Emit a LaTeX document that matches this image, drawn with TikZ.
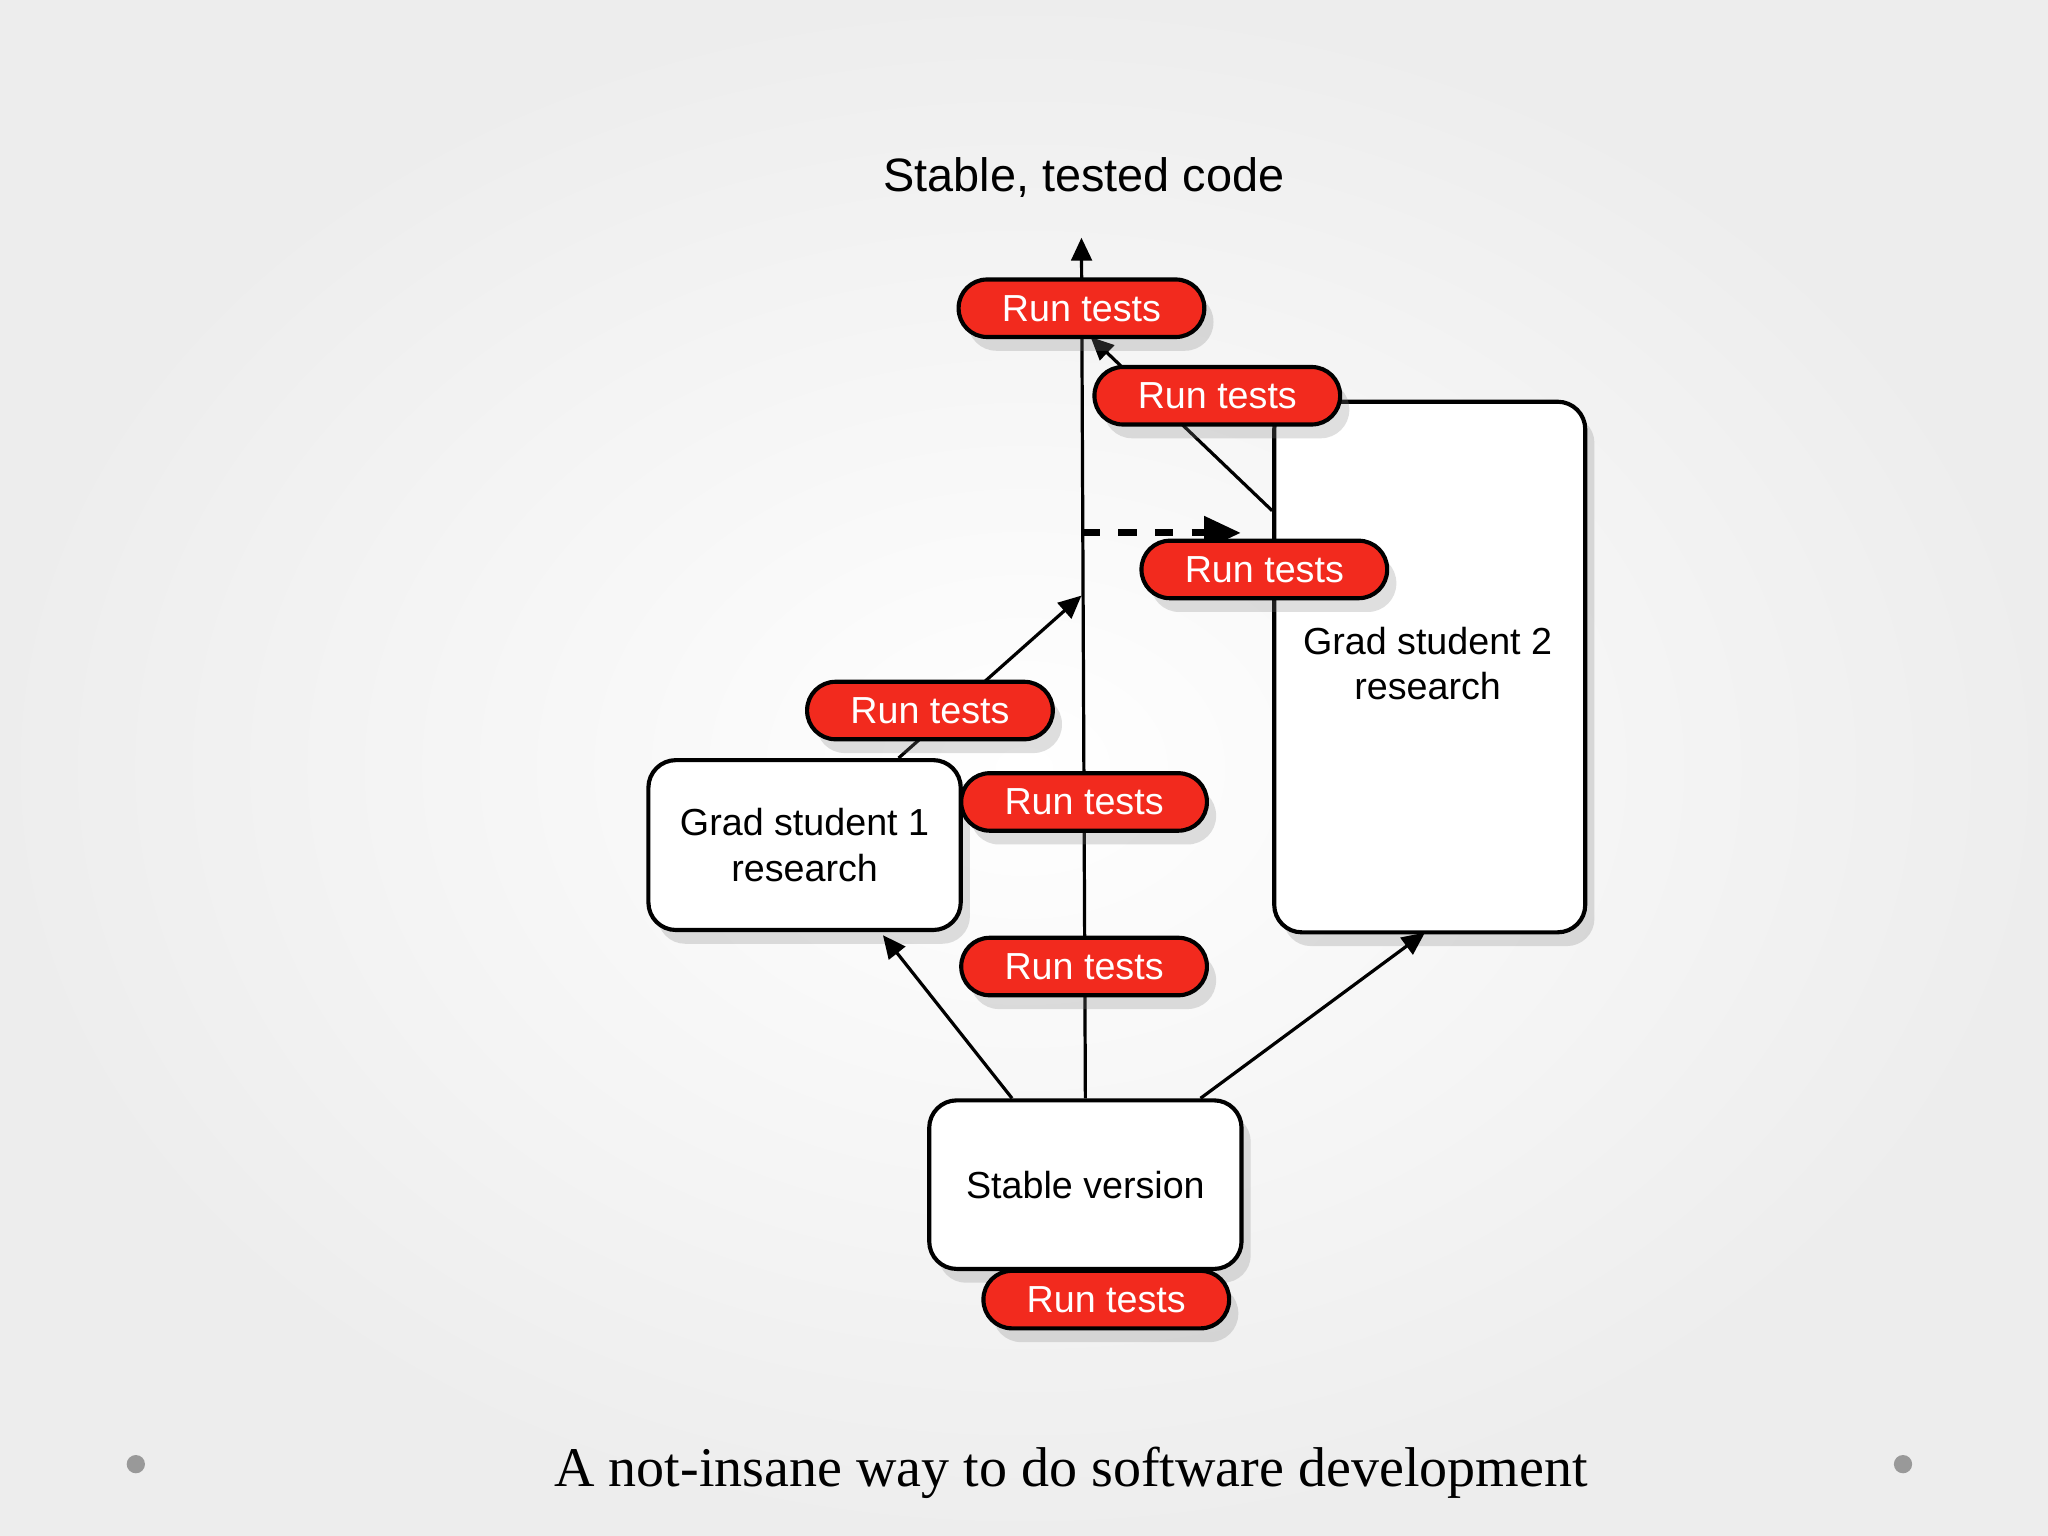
\documentclass[tikz,border=0pt]{standalone}
\usepackage{fontspec}
\setmainfont{Liberation Serif}
\setsansfont{Liberation Sans}
\usetikzlibrary{shadows,arrows.meta}
\definecolor{pillred}{HTML}{F22A1E}
\begin{document}
\begin{tikzpicture}[x=0.01cm,y=-0.01cm,
  pill/.style={draw=black,line width=0.9pt,fill=pillred,text=white,rounded corners=6.2pt,minimum width=1.88cm,minimum height=0.44cm,inner sep=0pt,font=\sffamily\fontsize{8.2}{9}\selectfont,drop shadow={shadow xshift=2pt,shadow yshift=-3pt,opacity=0.25}},
  box/.style={draw=black,line width=0.9pt,fill=white,rounded corners=6pt,align=center,inner sep=0pt,font=\sffamily\fontsize{8.2}{10}\selectfont,drop shadow={shadow xshift=2pt,shadow yshift=-3pt,opacity=0.25}},
  arr/.style={line width=0.7pt,-{Triangle[length=5pt,width=4.5pt]}}]
\useasboundingbox (0,0) rectangle (1568,1176);
\shade[inner color=white,outer color=gray!14] (0,0) rectangle (1568,1176);
\node[font=\sffamily\fontsize{10.2}{12}\selectfont] (title) at (830,136) {Stable, tested code};
\coordinate (top) at (828,182);
\node[box,minimum width=2.39cm,minimum height=1.30cm] (gs1) at (616,647) {Grad student 1\\research};
\node[box,minimum width=2.38cm,minimum height=4.06cm,anchor=north west] (gs2) at (974,306) {};
\node[font=\sffamily\fontsize{8.2}{10}\selectfont,align=center] (gs2t) at (1093,508) {Grad student 2\\research};
\node[box,minimum width=2.39cm,minimum height=1.29cm] (sv) at (831,907) {Stable version};
\coordinate (mid) at (828,456);
\coordinate (d0) at (828,408);
\coordinate (d1) at (950,408);
\coordinate (g2l) at (974,391);
\coordinate (tp) at (835,258);
\draw[arr] (sv.north) -- (top);
\draw[arr] (sv.north west) ++(65,0) coordinate (s1) (s1) -- (676,716);
\draw[arr] (sv.north east) ++(-33,0) coordinate (s2) (s2) -- (1091,714);
\draw[arr] (gs1.north) ++(72,0) coordinate (g1) (g1) -- (mid);
\draw[arr] (g2l) -- (tp);
\draw[line width=1.5pt,dash pattern=on 4pt off 4pt,-{Triangle[length=8pt,width=7pt]}] (d0) -- (d1);
\node[pill] (r1) at (828,236) {Run tests};
\node[pill] (r2) at (932,303) {Run tests};
\node[pill] (r3) at (968,436) {Run tests};
\node[pill] (r4) at (712,544) {Run tests};
\node[pill] (r5) at (830,614) {Run tests};
\node[pill] (r6) at (830,740) {Run tests};
\node[pill] (r7) at (847,995) {Run tests};
\node[font=\fontsize{12.2}{14}\selectfont] (cap) at (820,1128) {A not-insane way to do software development};
\fill[gray!80] (104,1121) circle (7) (1457,1121) circle (7);
\end{tikzpicture}
\end{document}
